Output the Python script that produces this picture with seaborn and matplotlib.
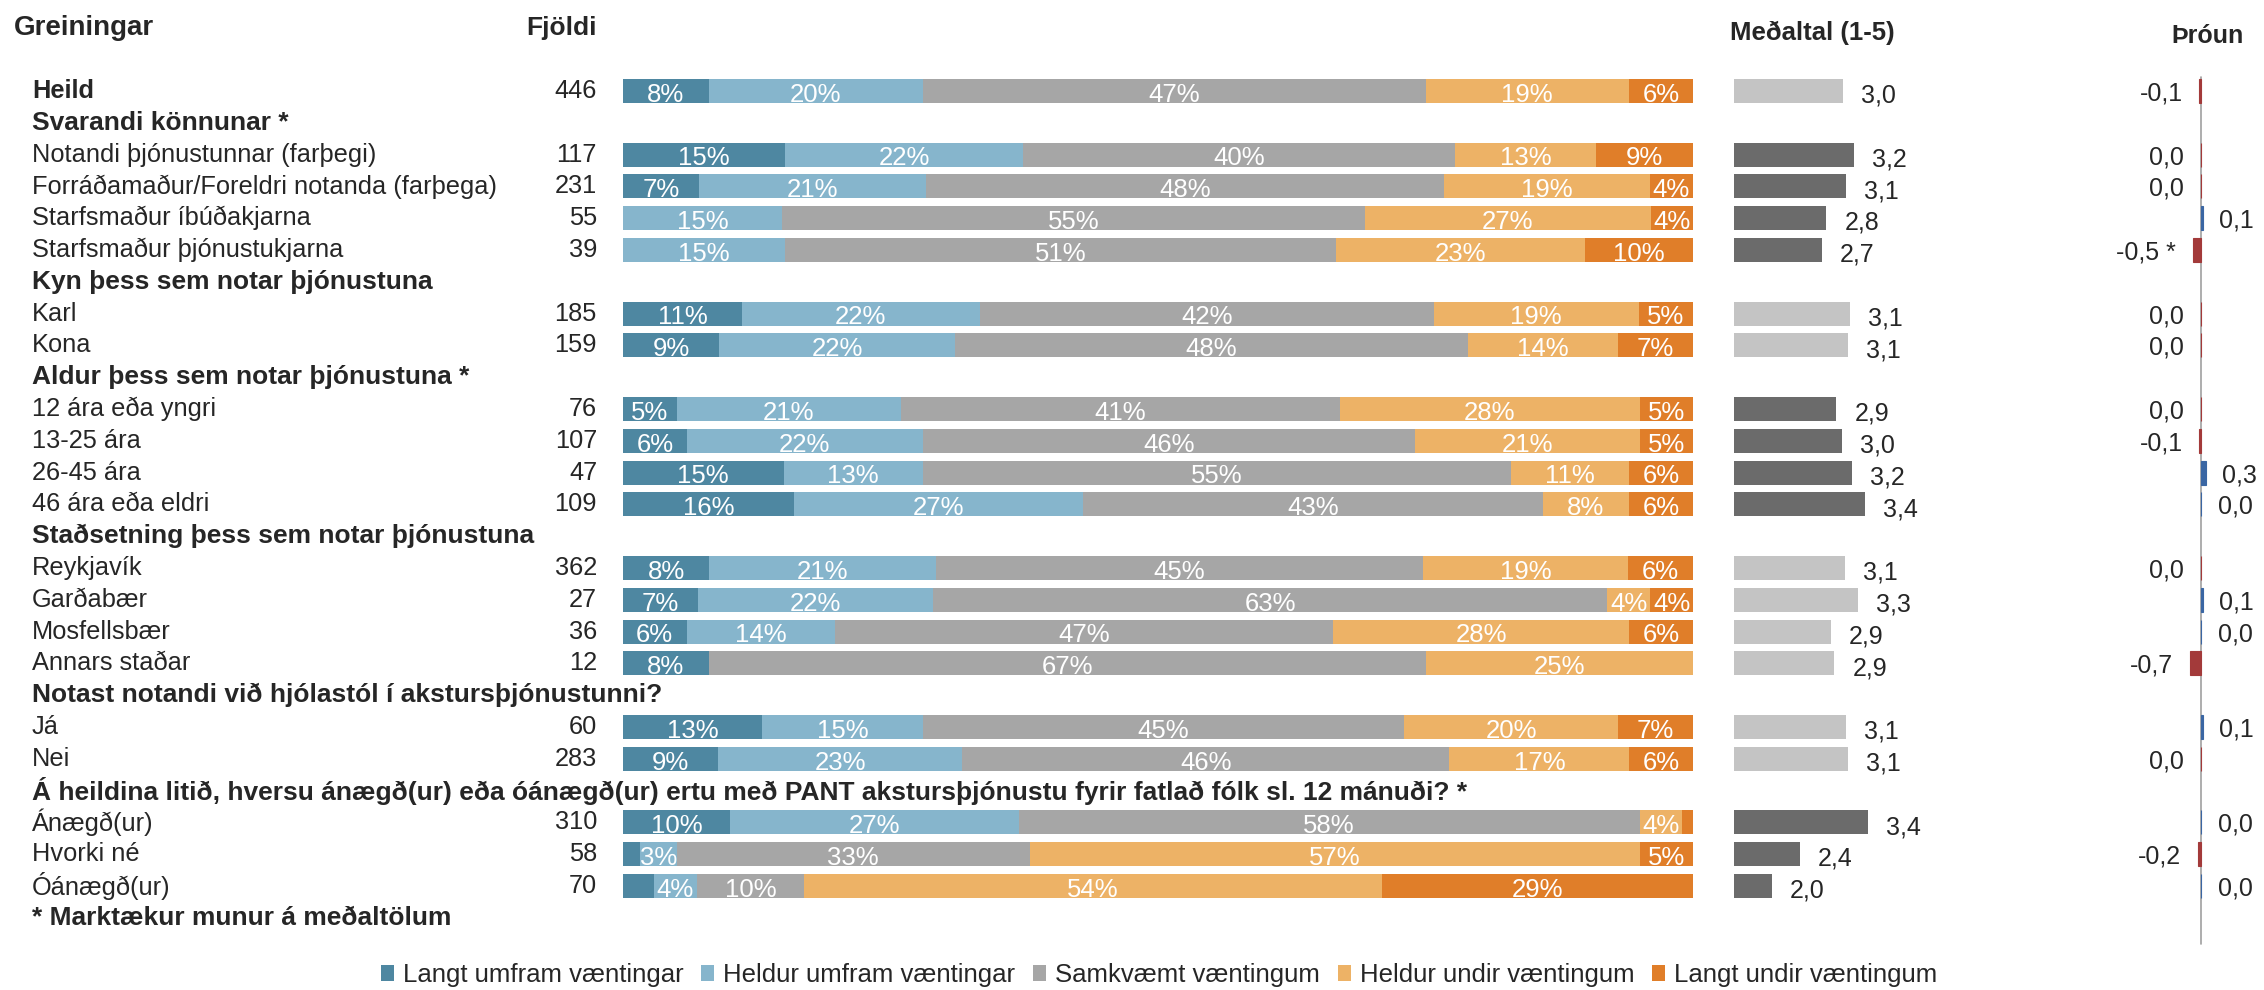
import numpy as np
import pandas as pd
import matplotlib
matplotlib.use("Agg")
import matplotlib.pyplot as plt
from matplotlib.patches import Patch
import seaborn as sns

# answer scale
categories = ["Langt umfram væntingar", "Heldur umfram væntingar", "Samkvæmt væntingum",
              "Heldur undir væntingum", "Langt undir væntingum"]
cat_colors = ["#4E87A1", "#86B5CC", "#A6A6A6", "#EDB266", "#E07E29"]

# breakdown groups (None = no heading line)
group_titles = [None,
                "Svarandi könnunar *",
                "Kyn þess sem notar þjónustuna",
                "Aldur þess sem notar þjónustuna *",
                "Staðsetning þess sem notar þjónustuna",
                "Notast notandi við hjólastól í akstursþjónustunni?",
                "Á heildina litið, hversu ánægð(ur) eða óánægð(ur) ertu með PANT akstursþjónustu fyrir fatlað fólk sl. 12 mánuði? *"]
group_sizes = [1, 4, 2, 4, 4, 2, 3]

row_labels = ["Heild",
              "Notandi þjónustunnar (farþegi)", "Forráðamaður/Foreldri notanda (farþega)",
              "Starfsmaður íbúðakjarna", "Starfsmaður þjónustukjarna",
              "Karl", "Kona",
              "12 ára eða yngri", "13-25 ára", "26-45 ára", "46 ára eða eldri",
              "Reykjavík", "Garðabær", "Mosfellsbær", "Annars staðar",
              "Já", "Nei",
              "Ánægð(ur)", "Hvorki né", "Óánægð(ur)"]
counts = [446, 117, 231, 55, 39, 185, 159, 76, 107, 47, 109, 362, 27, 36, 12, 60, 283, 310, 58, 70]

langt_umfram = [8, 15, 7, 0, 0, 11, 9, 5, 6, 15, 16, 8, 7, 6, 8, 13, 9, 10, 1.6, 2.9]
heldur_umfram = [20, 22, 21, 15, 15, 22, 22, 21, 22, 13, 27, 21, 22, 14, 0, 15, 23, 27, 3.4, 4]
samkvaemt = [47, 40, 48, 55, 51, 42, 48, 41, 46, 55, 43, 45, 63, 47, 67, 45, 46, 58, 33, 10]
heldur_undir = [19, 13, 19, 27, 23, 19, 14, 28, 21, 11, 8, 19, 4, 28, 25, 20, 17, 4, 57, 54]
langt_undir = [6, 9, 4, 4, 10, 5, 7, 5, 5, 6, 6, 6, 4, 6, 0, 7, 6, 1, 5, 29]

means = [3.04, 3.20, 3.08, 2.79, 2.73, 3.14, 3.11, 2.94, 3.02, 3.17, 3.36, 3.06, 3.26, 2.86, 2.91,
         3.08, 3.11, 3.40, 2.41, 2.00]
trend = [-0.1, -0.01, -0.01, 0.1, -0.5, -0.01, -0.01, -0.01, -0.1, 0.3, 0.01, -0.01, 0.1, 0.01, -0.7,
         0.1, -0.01, 0.01, -0.2, 0.01]
trend_star = [False, False, False, False, True, False, False, False, False, False, False, False,
              False, False, False, False, False, False, False, False]

footnote = "* Marktækur munur á meðaltölum"

sns.set_style("white")
plt.rcParams["font.family"] = ["Liberation Sans", "DejaVu Sans"]

# work out row positions (headings take a line of their own)
pos, header_pos, row_group = [], [], []
i = 0
for g, (title, n) in enumerate(zip(group_titles, group_sizes)):
    if title is not None:
        header_pos.append(i)
        i += 1
    for _ in range(n):
        pos.append(i)
        row_group.append(g)
        i += 1
footnote_pos = i

cat_cols = ["c0", "c1", "c2", "c3", "c4"]
df = pd.DataFrame({"label": row_labels, "n": counts, "pos": pos, "group": row_group,
                   "c0": langt_umfram, "c1": heldur_umfram, "c2": samkvaemt,
                   "c3": heldur_undir, "c4": langt_undir,
                   "mean": means, "trend": trend, "star": trend_star})
share = df[cat_cols].div(df[cat_cols].sum(axis=1), axis=0) * 100
cum = share.cumsum(axis=1)
for k, c in enumerate(cat_cols):
    df["cum" + c] = cum[c]
sig_groups = [g for g, t in enumerate(group_titles) if t is not None and t.endswith("*")]
df["shade"] = np.where(df["group"].isin(sig_groups), "dark", "light")
df["dir"] = np.where(df["trend"] < 0, "neg", "pos")

W, H = 2264, 990
row_h = 31.8
top = 91
ylim = ((H - top) / row_h, -top / row_h)

fig = plt.figure(figsize=(W / 100, H / 100), dpi=100)


def col_axes(x0, x1):
    ax = fig.add_axes([x0 / W, 0, (x1 - x0) / W, 1])
    ax.patch.set_alpha(0)
    return ax


ax_txt = col_axes(0, W)
ax_bar = col_axes(623, 1693)
ax_mean = col_axes(1734, 2060)
ax_trend = col_axes(2120, 2264)

# stacked bars: draw cumulative totals, longest first
for k in reversed(range(5)):
    sns.barplot(data=df, x="cum" + cat_cols[k], y="pos", orient="h", native_scale=True,
                color=cat_colors[k], saturation=1, width=0.76, linewidth=0,
                errorbar=None, ax=ax_bar)
for r in df.itertuples():
    left = 0
    for k, c in enumerate(cat_cols):
        v = getattr(r, c)
        w = share.loc[r.Index, c]
        if v >= 3:
            ax_bar.text(left + w / 2, r.pos + 0.34, f"{v:.0f}%", ha="center", va="baseline",
                        color="white", fontsize=18.5)
        left += w
ax_bar.set_xlim(0, 100)

# mean column
sns.barplot(data=df, x="mean", y="pos", hue="shade", palette={"dark": "#6B6B6B", "light": "#C4C4C4"},
            orient="h", native_scale=True, dodge=False, legend=False, saturation=1, width=0.76,
            linewidth=0, errorbar=None, ax=ax_mean)
ax_mean.set_xlim(1.446, 1.446 + 326 / 68.6)
for r in df.itertuples():
    ax_mean.annotate(f"{r.mean:.1f}".replace(".", ","), xy=(r.mean, r.pos + 0.37), xytext=(13, 0),
                     textcoords="offset points", ha="left", va="baseline", fontsize=18)

# change column
sns.barplot(data=df, x="trend", y="pos", hue="dir", palette={"neg": "#A33A3A", "pos": "#3A66A3"},
            orient="h", native_scale=True, dodge=False, legend=False, saturation=1, width=0.76,
            errorbar=None, ax=ax_trend)
for p in ax_trend.patches:
    p.set_edgecolor(p.get_facecolor())
    p.set_linewidth(0.8)
ax_trend.set_xlim(-81 / 16, 63 / 16)
ax_trend.axvline(0, ymin=1 - 944 / H, ymax=1 - 77 / H, color="#A0A0A0", lw=1.2, zorder=0)
for r in df.itertuples():
    t = 0.0 if round(r.trend, 1) == 0 else r.trend
    txt = f"{t:.1f}".replace(".", ",") + (" *" if r.star else "")
    if r.trend < 0:
        ax_trend.annotate(txt, xy=(r.trend, r.pos + 0.08), xytext=(-12, 0), textcoords="offset points",
                          ha="right", va="center", fontsize=18)
    else:
        ax_trend.annotate(txt, xy=(r.trend, r.pos + 0.08), xytext=(12, 0), textcoords="offset points",
                          ha="left", va="center", fontsize=18)

# labels on the left
for r in df.itertuples():
    ax_txt.text(32, r.pos, r.label, ha="left", va="center", fontsize=18.3,
                fontweight="bold" if r.label == "Heild" else "normal")
    ax_txt.text(597, r.pos, str(r.n), ha="right", va="center", fontsize=18.3)
for title, p in zip([t for t in group_titles if t is not None], header_pos):
    ax_txt.text(32, p, title, ha="left", va="center", fontsize=19, fontweight="bold")
ax_txt.text(32, footnote_pos, footnote, ha="left", va="center", fontsize=19, fontweight="bold")

# column headings
ax_txt.text(14, (35 - top) / row_h, "Greiningar", ha="left", va="baseline", fontsize=20, fontweight="bold")
ax_txt.text(597, (35 - top) / row_h, "Fjöldi", ha="right", va="baseline", fontsize=19, fontweight="bold")
ax_txt.text(1730, (40 - top) / row_h, "Meðaltal (1-5)", ha="left", va="baseline", fontsize=18.5, fontweight="bold")
ax_txt.text(2171, (43 - top) / row_h, "Þróun", ha="left", va="baseline", fontsize=18, fontweight="bold")
ax_txt.set_xlim(0, W)

for ax in (ax_txt, ax_bar, ax_mean, ax_trend):
    ax.set_ylim(*ylim)
    ax.axis("off")

handles = [Patch(facecolor=c, edgecolor="none") for c in cat_colors]
fig.legend(handles, categories, loc="center", bbox_to_anchor=(1159 / W, 1 - 975 / H), ncol=5,
           frameon=False, fontsize=18.5, handlelength=0.5, handleheight=0.55, handletextpad=0.35,
           columnspacing=0.7, borderpad=0)

fig.savefig("out.png", dpi=100)
